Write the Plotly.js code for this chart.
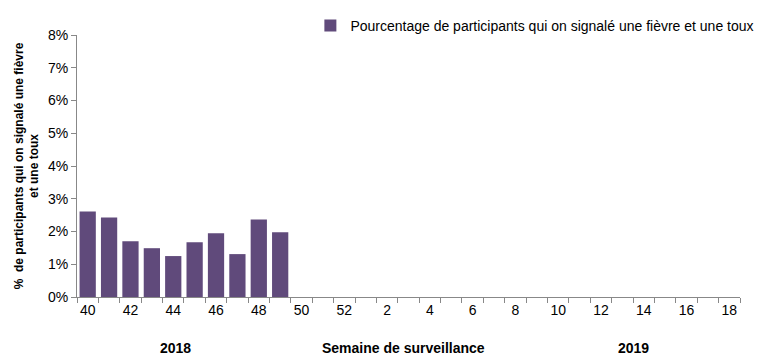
<!DOCTYPE html>
<html>
<head>
<meta charset="utf-8">
<script src="https://cdn.plot.ly/plotly-3.0.1.min.js"></script>
<style>html,body{margin:0;padding:0;background:#fff}#chart{width:765px;height:361px}</style>
</head>
<body>
<div id="chart"></div>
<script>
// Surveillance weeks (2018 wk 40 to 2019 wk 18)
const weeks = ["40","41","42","43","44","45","46","47","48","49","50","51","52",
  "1","2","3","4","5","6","7","8","9","10","11","12","13","14","15","16","17","18"];
// Percent of participants reporting fever and cough (weeks 40-49)
const pctWeeks = ["40","41","42","43","44","45","46","47","48","49"];
const pctValues = [2.61, 2.43, 1.70, 1.49, 1.25, 1.67, 1.95, 1.31, 2.37, 1.98];
const tickLabelWeeks = ["40","42","44","46","48","50","52","2","4","6","8","10","12","14","16","18"];
const seriesName = "Pourcentage de participants qui on signalé une fièvre et une toux";

const tickText = weeks.map(w => tickLabelWeeks.includes(w) ? w : "");

const trace = {
  type: "bar",
  x: pctWeeks,
  y: pctValues,
  name: seriesName,
  marker: {color: "#604A7B"},
  showlegend: true
};

const layout = {
  width: 765, height: 361,
  margin: {l: 77, r: 25, t: 35, b: 64, autoexpand: false},
  paper_bgcolor: "#fff", plot_bgcolor: "#fff",
  font: {family: "Liberation Sans, Arial, sans-serif", size: 14, color: "#000"},
  bargap: 0.24,
  showlegend: true,
  legend: {x: 0.352, y: 1.035, xanchor: "left", yanchor: "middle", bgcolor: "rgba(0,0,0,0)",
    font: {size: 14}, itemwidth: 30},
  xaxis: {
    type: "category",
    categoryorder: "array", categoryarray: weeks,
    range: [-0.5, weeks.length - 0.5],
    tickmode: "array", tickvals: weeks, ticktext: tickText,
    tickson: "boundaries", tickangle: 0,
    ticks: "outside", ticklen: 5, tickcolor: "#888",
    showline: true, linecolor: "#888", linewidth: 1,
    showgrid: false, zeroline: false,
    tickfont: {size: 14}
  },
  yaxis: {
    range: [0, 8], dtick: 1, ticksuffix: "%",
    ticks: "outside", ticklen: 5, tickcolor: "#888",
    showline: true, linecolor: "#888", linewidth: 1,
    showgrid: false, zeroline: false,
    tickfont: {size: 14},
    title: {text: "<b>%  de participants qui on signalé une fièvre<br>et une toux</b>",
      font: {size: 12}, standoff: 6}
  },
  annotations: [
    {text: "<b>2018</b>", xref: "paper", yref: "paper", x: 0.148, y: -0.195,
      showarrow: false, font: {size: 14}, xanchor: "center", yanchor: "middle"},
    {text: "<b>Semaine de surveillance</b>", xref: "paper", yref: "paper", x: 0.492, y: -0.195,
      showarrow: false, font: {size: 14}, xanchor: "center", yanchor: "middle"},
    {text: "<b>2019</b>", xref: "paper", yref: "paper", x: 0.839, y: -0.195,
      showarrow: false, font: {size: 14}, xanchor: "center", yanchor: "middle"}
  ]
};

Plotly.newPlot("chart", [trace], layout, {displayModeBar: false, staticPlot: true});
</script>
</body>
</html>
